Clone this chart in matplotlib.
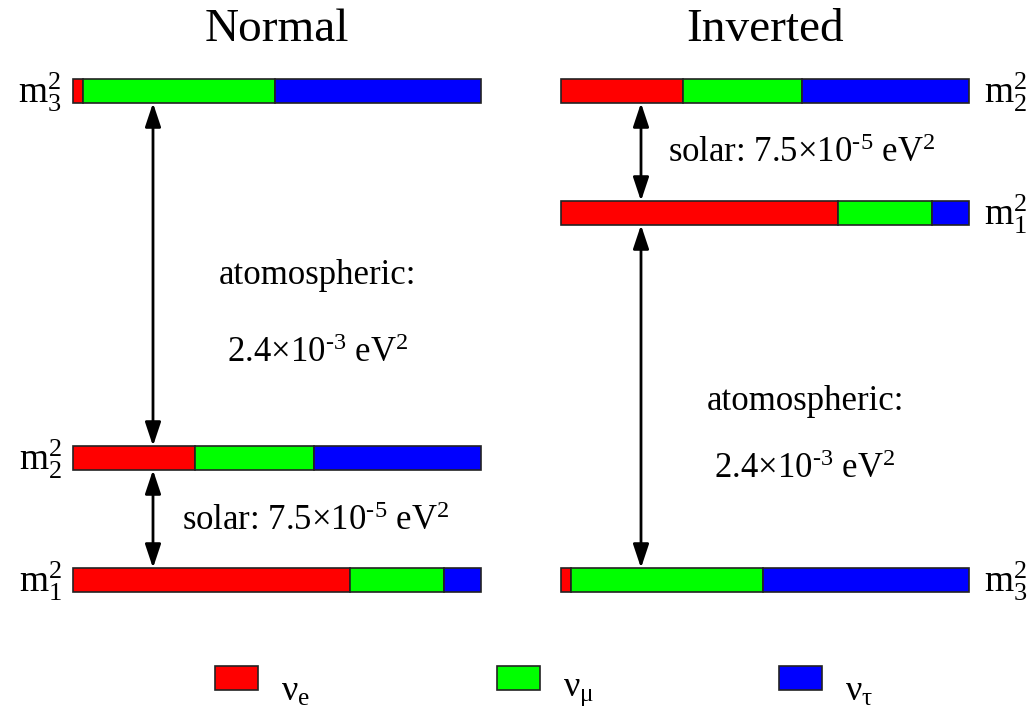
import numpy as np
import matplotlib
matplotlib.use("Agg")
import matplotlib.pyplot as plt

plt.rcParams['font.family'] = ['Liberation Serif', 'DejaVu Serif']
plt.rcParams['mathtext.fontset'] = 'custom'
plt.rcParams['mathtext.rm'] = 'Liberation Serif'
plt.rcParams['mathtext.it'] = 'Liberation Serif:italic'

# flavour content of each mass state (nu_e, nu_mu, nu_tau)
flavours = [r'$\mathrm{\nu_e}$', r'$\mathrm{\nu_\mu}$', r'$\mathrm{\nu_\tau}$']
colors = ['#ff0000', '#00ff00', '#0000ff']
m1_mix = [0.68, 0.23, 0.09]
m2_mix = [0.30, 0.29, 0.41]
m3_mix = [0.025, 0.47, 0.505]

solar_txt = r'solar: 7.5$\times$10$^{\text{-}5}$ eV$^2$'
atm_txt = r'2.4$\times$10$^{\text{-}3}$ eV$^2$'

fig = plt.figure(figsize=(10.30, 7.14), dpi=100)
ax = fig.add_axes([0, 0, 1, 1])
ax.set_xlim(0, 1030)
ax.set_ylim(714, 0)
ax.axis('off')

BAR_W = 408
BAR_H = 24
TXT = 25


def level(x0, y, mix):
    left = x0 + BAR_W * np.concatenate([[0], np.cumsum(mix)[:-1]])
    ax.barh([y] * 3, np.array(mix) * BAR_W, left=left, height=BAR_H,
            color=colors, edgecolor='#222222', linewidth=1.2)


def arrow(x, y_top, y_bot):
    ax.annotate('', xy=(x, y_top), xytext=(x, y_bot),
                arrowprops=dict(arrowstyle='<|-|>,head_length=0.9,head_width=0.3',
                                color='black', lw=2, mutation_scale=16,
                                shrinkA=0, shrinkB=0))


def mlabel(x, y, i, ha):
    ax.text(x, y, r'$\mathrm{m}_{%d}^{2}$' % i, fontsize=27, ha=ha, va='center')


# normal ordering
xl = 73
level(xl, 91, m3_mix)
level(xl, 458, m2_mix)
level(xl, 580, m1_mix)
arrow(153, 103, 446)
arrow(153, 470, 568)
mlabel(62, 92, 3, 'right')
mlabel(62, 459, 2, 'right')
mlabel(62, 581, 1, 'right')
ax.text(277, 30, 'Normal', fontsize=34, ha='center', va='center')
ax.text(318, 276, 'atomospheric:', fontsize=TXT, ha='center', va='center')
ax.text(318, 354, atm_txt, fontsize=TXT, ha='center', va='center')
ax.text(182, 522, solar_txt, fontsize=TXT, ha='left', va='center')

# inverted ordering
xr = 561
level(xr, 91, m2_mix)
level(xr, 213, m1_mix)
level(xr, 580, m3_mix)
arrow(641, 103, 201)
arrow(641, 225, 568)
mlabel(984, 92, 2, 'left')
mlabel(984, 214, 1, 'left')
mlabel(984, 581, 3, 'left')
ax.text(765, 30, 'Inverted', fontsize=34, ha='center', va='center')
ax.text(668, 154, solar_txt, fontsize=TXT, ha='left', va='center')
ax.text(805, 401, 'atomospheric:', fontsize=TXT, ha='center', va='center')
ax.text(805, 470, atm_txt, fontsize=TXT, ha='center', va='center')

# flavour key
for x, c, lab in zip([215, 497, 779], colors, flavours):
    ax.bar(x + 21.5, 24, width=43, bottom=666, color=c,
           edgecolor='#222222', linewidth=1.2)
    ax.text(x + 66, 692, lab, fontsize=26, ha='left', va='center')

fig.savefig('out.png', dpi=100)
